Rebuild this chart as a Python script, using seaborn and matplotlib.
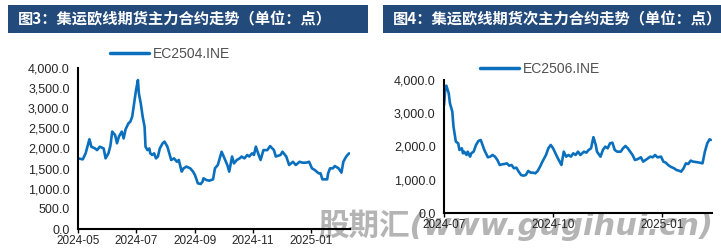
import matplotlib
matplotlib.use("Agg")
import matplotlib.pyplot as plt
import matplotlib.dates as mdates
from matplotlib.patches import Rectangle
import matplotlib.ticker as mticker
import seaborn as sns
import pandas as pd

# ---------------- data ----------------
ec2504_dates = [
    "2024-05-01", "2024-05-06", "2024-05-09", "2024-05-13", "2024-05-15", "2024-05-19",
    "2024-05-21", "2024-05-24", "2024-05-28", "2024-05-30", "2024-06-02", "2024-06-04",
    "2024-06-06", "2024-06-09", "2024-06-11", "2024-06-13", "2024-06-16", "2024-06-18",
    "2024-06-20", "2024-06-23", "2024-06-25", "2024-06-27", "2024-06-29", "2024-07-01",
    "2024-07-03", "2024-07-04", "2024-07-06", "2024-07-08", "2024-07-10", "2024-07-11",
    "2024-07-13", "2024-07-15", "2024-07-16", "2024-07-18", "2024-07-20", "2024-07-22",
    "2024-07-24", "2024-07-26", "2024-07-29", "2024-07-31", "2024-08-03", "2024-08-05",
    "2024-08-07", "2024-08-10", "2024-08-13", "2024-08-15", "2024-08-18", "2024-08-20",
    "2024-08-23", "2024-08-27", "2024-08-30", "2024-09-01", "2024-09-04", "2024-09-07",
    "2024-09-09", "2024-09-10", "2024-09-13", "2024-09-16", "2024-09-20", "2024-09-22",
    "2024-09-25", "2024-09-27", "2024-09-29", "2024-10-02", "2024-10-05", "2024-10-07",
    "2024-10-10", "2024-10-12", "2024-10-15", "2024-10-18", "2024-10-20", "2024-10-23",
    "2024-10-26", "2024-10-28", "2024-10-31", "2024-11-02", "2024-11-04", "2024-11-07",
    "2024-11-09", "2024-11-12", "2024-11-16", "2024-11-19", "2024-11-23", "2024-11-25",
    "2024-11-30", "2024-12-02", "2024-12-06", "2024-12-09", "2024-12-13", "2024-12-16",
    "2024-12-20", "2024-12-23", "2024-12-27", "2024-12-30", "2025-01-02", "2025-01-05",
    "2025-01-09", "2025-01-11", "2025-01-13", "2025-01-18", "2025-01-19", "2025-01-21",
    "2025-01-24", "2025-01-26", "2025-01-30", "2025-02-02", "2025-02-04", "2025-02-07",
    "2025-02-10",
]
ec2504_values = [
    1755, 1730, 1880, 2230, 2045, 2000, 1960, 2045, 2000, 1755, 1880, 2060,
    2420, 2335, 2130, 2295, 2420, 2250, 2475, 2625, 2666, 2790, 3120, 3450,
    3700, 3370, 3120, 2790, 2540, 2045, 1960, 2000, 1880, 1840, 1880, 1755,
    1800, 2000, 2130, 2170, 2045, 1880, 1715, 1755, 1670, 1715, 1425, 1507,
    1550, 1507, 1425, 1340, 1135, 1118, 1176, 1260, 1217, 1200, 1234, 1507,
    1590, 1755, 1920, 1755, 1590, 1425, 1800, 1630, 1715, 1755, 1800, 1755,
    1840, 1800, 1880, 1840, 2045, 1840, 1715, 1960, 1960, 2060, 1960, 1800,
    1840, 1920, 1800, 1590, 1670, 1590, 1670, 1648, 1648, 1670, 1507, 1465,
    1383, 1383, 1234, 1234, 1383, 1507, 1507, 1565, 1507, 1400, 1670, 1800,
    1880,
]

ec2506_dates = [
    "2024-07-01", "2024-07-02", "2024-07-03", "2024-07-05", "2024-07-06", "2024-07-08",
    "2024-07-09", "2024-07-11", "2024-07-13", "2024-07-14", "2024-07-16", "2024-07-17",
    "2024-07-18", "2024-07-20", "2024-07-21", "2024-07-23", "2024-07-24", "2024-07-26",
    "2024-07-28", "2024-07-30", "2024-08-01", "2024-08-02", "2024-08-04", "2024-08-07",
    "2024-08-09", "2024-08-11", "2024-08-13", "2024-08-15", "2024-08-17", "2024-08-19",
    "2024-08-21", "2024-08-23", "2024-08-25", "2024-08-27", "2024-08-29", "2024-08-31",
    "2024-09-02", "2024-09-04", "2024-09-06", "2024-09-08", "2024-09-10", "2024-09-12",
    "2024-09-14", "2024-09-16", "2024-09-18", "2024-09-20", "2024-09-22", "2024-09-25",
    "2024-09-27", "2024-09-29", "2024-10-01", "2024-10-03", "2024-10-05", "2024-10-07",
    "2024-10-08", "2024-10-10", "2024-10-12", "2024-10-14", "2024-10-16", "2024-10-18",
    "2024-10-20", "2024-10-22", "2024-10-24", "2024-10-27", "2024-10-29", "2024-10-31",
    "2024-11-02", "2024-11-04", "2024-11-06", "2024-11-07", "2024-11-10", "2024-11-12",
    "2024-11-14", "2024-11-16", "2024-11-18", "2024-11-20", "2024-11-22", "2024-11-24",
    "2024-11-27", "2024-11-29", "2024-12-01", "2024-12-03", "2024-12-05", "2024-12-07",
    "2024-12-09", "2024-12-11", "2024-12-14", "2024-12-16", "2024-12-18", "2024-12-20",
    "2024-12-22", "2024-12-24", "2024-12-26", "2024-12-28", "2024-12-31", "2025-01-02",
    "2025-01-04", "2025-01-06", "2025-01-08", "2025-01-11", "2025-01-13", "2025-01-15",
    "2025-01-17", "2025-01-19", "2025-01-21", "2025-01-23", "2025-01-25", "2025-01-27",
    "2025-01-31", "2025-02-04", "2025-02-06", "2025-02-08", "2025-02-10", "2025-02-11",
]
ec2506_values = [
    3250, 3700, 3830, 3600, 3300, 3050, 2600, 2146, 2096, 1896, 1946, 1795,
    1845, 1745, 1845, 1695, 1795, 1845, 2046, 2166, 2196, 2096, 1896, 1675,
    1695, 1745, 1695, 1595, 1444, 1464, 1474, 1494, 1424, 1444, 1344, 1364,
    1244, 1143, 1123, 1143, 1264, 1214, 1214, 1194, 1264, 1394, 1545, 1745,
    1946, 2046, 1946, 1795, 1645, 1514, 1444, 1845, 1695, 1745, 1695, 1795,
    1745, 1845, 1745, 1845, 1815, 1896, 1946, 2280, 2046, 1845, 1695, 1896,
    1996, 1946, 2096, 2116, 1896, 1845, 1845, 1946, 2016, 1946, 1845, 1745,
    1595, 1615, 1675, 1545, 1595, 1645, 1695, 1675, 1745, 1675, 1695, 1545,
    1514, 1444, 1394, 1344, 1294, 1274, 1244, 1344, 1494, 1474, 1575, 1545,
    1525, 1494, 1845, 2096, 2217, 2196,
]

titles = ["图3：集运欧线期货主力合约走势（单位：点）",
          "图4：集运欧线期货次主力合约走势（单位：点）"]
series_names = ["EC2504.INE", "EC2506.INE"]
watermark = "股期汇(www.gugihui.cn)"

# ---------------- style ----------------
sns.set_theme(style="white")
plt.rcParams["font.family"] = ["Liberation Sans", "Noto Sans CJK SC", "DejaVu Sans"]

W, H = 721, 249
fig = plt.figure(figsize=(W / 100, H / 100), dpi=100)
fig.patch.set_facecolor("white")

LINE_COLOR = "#0A70BE"
HEADER_COLOR = "#224A7B"
TEXT_COLOR = "#262626"


def frac(x0, y0, x1, y1):
    """pixel box (top-left origin) -> figure fraction rect"""
    return [x0 / W, 1 - y1 / H, (x1 - x0) / W, (y1 - y0) / H]


# header bars
for (x0, x1), t in zip([(8, 368), (383, 721)], titles):
    fig.patches.append(Rectangle((x0 / W, 1 - 33 / H), (x1 - x0) / W, 28 / H,
                                 transform=fig.transFigure, facecolor=HEADER_COLOR,
                                 edgecolor="none", zorder=0))
    fig.text((x0 + 10) / W, 1 - 19.5 / H, t, color="white", fontsize=11,
             fontweight="bold", va="center", ha="left",
             family=["Noto Sans CJK SC", "DejaVu Sans"])

df1 = pd.DataFrame({"date": pd.to_datetime(ec2504_dates), "value": ec2504_values,
                    "series": series_names[0]})
df2 = pd.DataFrame({"date": pd.to_datetime(ec2506_dates), "value": ec2506_values,
                    "series": series_names[1]})

ax1 = fig.add_axes(frac(78, 68, 350, 229))
ax2 = fig.add_axes(frac(444, 80, 712, 213))

configs = [
    (ax1, df1, [0, 500, 1000, 1500, 2000, 2500, 3000, 3500, 4000],
     ["2024-05-01", "2024-07-01", "2024-09-01", "2024-11-01", "2025-01-01"],
     (170, 54)),
    (ax2, df2, [0, 1000, 2000, 3000, 4000],
     ["2024-07-01", "2024-10-01", "2025-01-01"],
     (540, 69)),
]

for ax, df, yt, xt, (lx, ly) in configs:
    sns.lineplot(data=df, x="date", y="value", hue="series",
                 palette=[LINE_COLOR], linewidth=1.9, ax=ax, legend=True)
    ax.set_facecolor("none")
    ax.set_ylim(0, 4000)
    ax.set_xlim(df["date"].iloc[0], df["date"].iloc[-1] + pd.Timedelta(days=1))
    ax.set_yticks(yt)
    ax.yaxis.set_major_formatter(mticker.FuncFormatter(lambda v, p: f"{v:,.1f}"))
    ax.set_xticks(pd.to_datetime(xt))
    ax.xaxis.set_major_formatter(mdates.DateFormatter("%Y-%m"))
    ax.set_xlabel("")
    ax.set_ylabel("")
    for s in ["top", "right"]:
        ax.spines[s].set_visible(False)
    for s in ["left", "bottom"]:
        ax.spines[s].set_color("black")
        ax.spines[s].set_linewidth(1.5)
    ax.tick_params(axis="x", direction="out", length=3, width=1, color="black",
                   labelsize=8.5, labelcolor=TEXT_COLOR, pad=1.5, bottom=True)
    ax.tick_params(axis="y", length=0, labelsize=9, labelcolor=TEXT_COLOR, pad=6)
    ax.grid(False)
    leg = ax.legend(loc="center", bbox_to_anchor=(lx / W, 1 - ly / H),
                    bbox_transform=fig.transFigure, frameon=False, fontsize=10,
                    handlelength=2.8, handletextpad=0.3, borderpad=0)
    for txt in leg.get_texts():
        txt.set_color("#505050")
    for h in leg.get_lines():
        h.set_linewidth(2.5)

# watermark (drawn beneath the axes so tick labels stay on top, as in the reference)
fig.text(516 / W, 1 - 225 / H, watermark, color="#b4b4b4",
         fontsize=22, fontweight="bold", style="italic", ha="center", va="center",
         family=["DejaVu Sans", "Noto Sans CJK SC"], zorder=-1)

fig.savefig("out.png", dpi=100, facecolor="white")
